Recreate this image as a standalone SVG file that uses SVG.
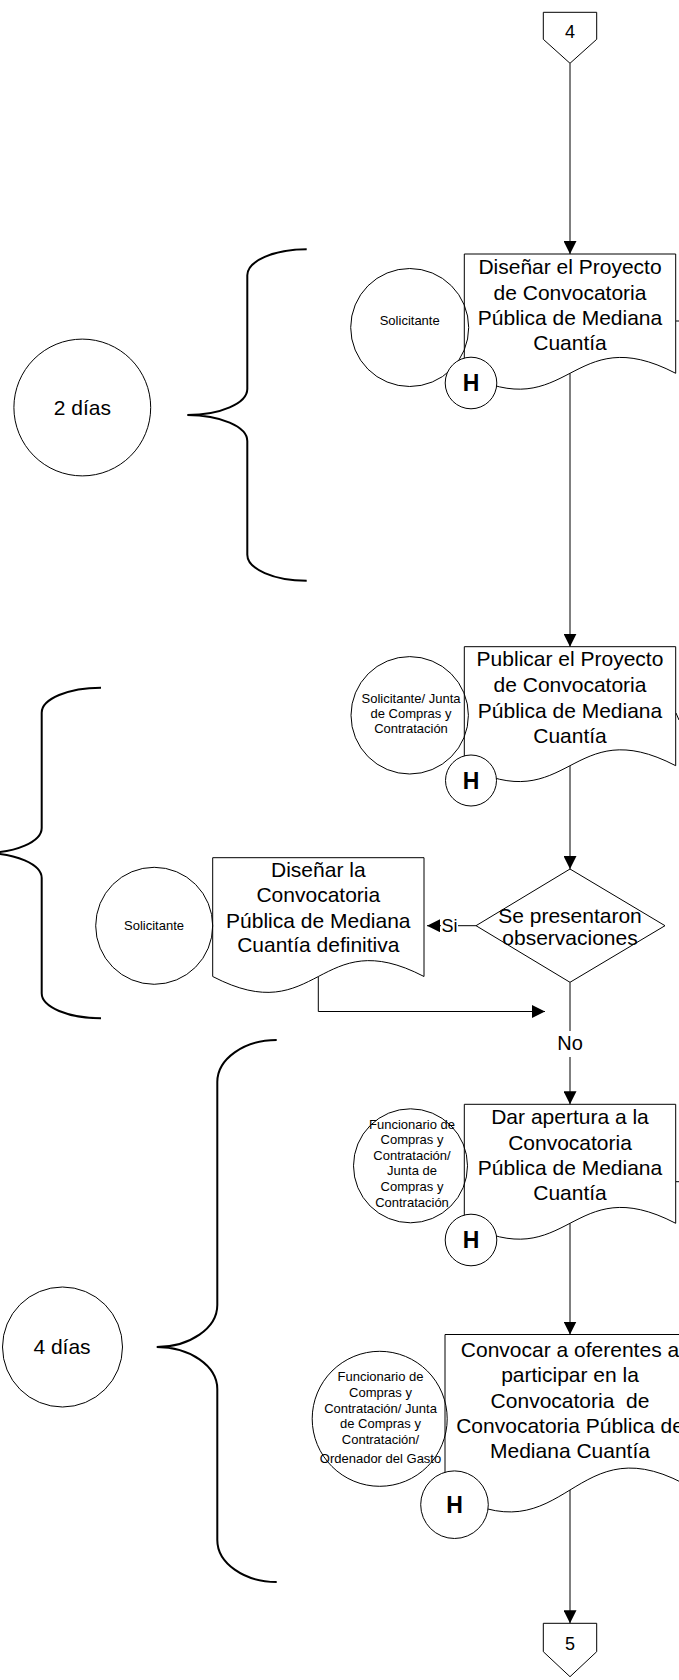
<svg xmlns="http://www.w3.org/2000/svg" width="679" height="1680" viewBox="0 0 679 1680">
<style>
.ln{fill:none;stroke:#000;stroke-width:1}
.shape{fill:#fff;stroke:#000;stroke-width:1}
.role{fill:none;stroke:#000;stroke-width:1}
.brace{fill:none;stroke:#000;stroke-width:2}
.bg{fill:#fff;stroke:none}
text{font-family:"Liberation Sans",Arial,sans-serif;fill:#000;text-anchor:middle}
.t21{font-size:21px}
.t20{font-size:20px}
.t18{font-size:18px}
.t13{font-size:13px}
.h{font-size:23px;font-weight:bold}
</style>
<defs>
<marker id="arr" markerUnits="userSpaceOnUse" viewBox="0 0 13 13" refX="13" refY="6.5" markerWidth="13" markerHeight="13" orient="auto"><path d="M0,0 L13,6.5 L0,13 Z" fill="#000"/></marker>
</defs>

<g id="braces">
<path class="brace" d="M306.7,249.3 C274,249.3 247.3,261 247.3,275.3 L247.3,389 C247.3,403.3 220.3,415 187.3,415 C220.3,415 247.3,426.7 247.3,441 L247.3,554.7 C247.3,569 274,580.7 306.7,580.7"/>
<path class="brace" d="M101,687.7 C68.4,687.7 41.7,698.95 41.7,712.7 L41.7,828 C41.7,841.75 15.7,853 -16,853 C15.7,853 41.7,864.25 41.7,878 L41.7,993.3 C41.7,1007.05 68.4,1018.3 101,1018.3"/>
<path class="brace" d="M276.7,1040 C244,1040 217.3,1058.9 217.3,1082 L217.3,1305 C217.3,1328.1 190,1347 156.7,1347 C190,1347 217.3,1365.9 217.3,1389 L217.3,1540 C217.3,1563.1 244,1582 276.7,1582"/>
</g>

<g id="dur1"><circle class="shape" cx="82.3" cy="407.5" r="68.4"/><text class="t21" x="82.3" y="414.5">2 días</text></g>
<g id="dur2"><circle class="shape" cx="62.5" cy="1347" r="60"/><text class="t21" x="62" y="1354">4 días</text></g>

<g id="connectors">
<path class="ln" d="M570,63.3 V254" marker-end="url(#arr)"/>
<path class="ln" d="M570,373.3 V646.7" marker-end="url(#arr)"/>
<path class="ln" d="M570,765.7 V869" marker-end="url(#arr)"/>
<path class="ln" d="M476,925.7 H427" marker-end="url(#arr)"/>
<path class="ln" d="M318.3,976.5 V1011.5 H545" marker-end="url(#arr)"/>
<path class="ln" d="M570,982.3 V1104.3" marker-end="url(#arr)"/>
<path class="ln" d="M570,1223.3 V1334.5" marker-end="url(#arr)"/>
<path class="ln" d="M570,1490 V1623.3" marker-end="url(#arr)"/>
<path class="ln" d="M676,321 H679"/>
<path class="ln" d="M676,713 L679,720"/>
<path class="ln" d="M676,1181.7 H679"/>
<rect class="bg" x="441" y="917" width="17" height="17"/>
<text class="t18" x="449.5" y="931.5">Si</text>
<rect class="bg" x="555" y="1031" width="30" height="26"/>
<text class="t20" x="570" y="1050">No</text>
</g>

<g id="off4"><path class="shape" d="M543.3,12.3 H596.7 V39.3 L570,63.3 L543.3,39.3 Z"/><text class="t18" x="570" y="37.5">4</text></g>

<g id="doc1">
<path class="shape" d="M464.3,254 H675.7 V373.3 C570,318.3 570,428.3 464.3,373.3 Z"/>
<text class="t21" x="570"><tspan x="570" y="273.5">Diseñar el Proyecto</tspan><tspan x="570" y="299.5">de Convocatoria</tspan><tspan x="570" y="325">Pública de Mediana</tspan><tspan x="570" y="350">Cuantía</tspan></text>
</g>
<g id="role1"><circle class="role" cx="409.7" cy="327.5" r="59"/><text class="t13" x="409.7" y="325">Solicitante</text></g>
<g id="h1"><circle class="shape" cx="471" cy="383" r="25.8"/><text class="h" x="471" y="391.3">H</text></g>

<g id="doc2">
<path class="shape" d="M464.3,646.7 H675.7 V765.7 C570,710.7 570,820.7 464.3,765.7 Z"/>
<text class="t21" x="570"><tspan x="570" y="666">Publicar el Proyecto</tspan><tspan x="570" y="692">de Convocatoria</tspan><tspan x="570" y="717.5">Pública de Mediana</tspan><tspan x="570" y="742.5">Cuantía</tspan></text>
</g>
<g id="role2"><circle class="role" cx="409.7" cy="715.3" r="58.7"/><text class="t13" x="411"><tspan x="411" y="703">Solicitante/ Junta</tspan><tspan x="411" y="718">de Compras y</tspan><tspan x="411" y="733">Contratación</tspan></text></g>
<g id="h2"><circle class="shape" cx="471" cy="780.5" r="25.5"/><text class="h" x="471" y="788.8">H</text></g>

<g id="decision">
<path class="shape" d="M570,869 L665,925.7 L570,982.3 L476,925.7 Z"/>
<text class="t21" x="570"><tspan x="570" y="922.7">Se presentaron</tspan><tspan x="570" y="945">observaciones</tspan></text>
</g>

<g id="doc3">
<path class="shape" d="M212.7,857.7 H424 V976.5 C318.35,921.5 318.35,1031.5 212.7,976.5 Z"/>
<text class="t21" x="318.3"><tspan x="318.3" y="876.5">Diseñar la</tspan><tspan x="318.3" y="902">Convocatoria</tspan><tspan x="318.3" y="927.5">Pública de Mediana</tspan><tspan x="318.3" y="952">Cuantía definitiva</tspan></text>
</g>
<g id="role3"><circle class="role" cx="154.2" cy="925.8" r="58.5"/><text class="t13" x="154" y="930">Solicitante</text></g>

<g id="doc4">
<path class="shape" d="M464.3,1104.3 H675.7 V1223.3 C570,1168.3 570,1278.3 464.3,1223.3 Z"/>
<text class="t21" x="570"><tspan x="570" y="1123.8">Dar apertura a la</tspan><tspan x="570" y="1149.8">Convocatoria</tspan><tspan x="570" y="1175.3">Pública de Mediana</tspan><tspan x="570" y="1200">Cuantía</tspan></text>
</g>
<g id="role4"><circle class="role" cx="410.5" cy="1165.8" r="57"/><text class="t13" x="412"><tspan x="412" y="1128.5">Funcionario de</tspan><tspan x="412" y="1144.1">Compras y</tspan><tspan x="412" y="1159.7">Contratación/</tspan><tspan x="412" y="1175.3">Junta de</tspan><tspan x="412" y="1190.9">Compras y</tspan><tspan x="412" y="1206.5">Contratación</tspan></text></g>
<g id="h4"><circle class="shape" cx="471" cy="1240" r="25.8"/><text class="h" x="471" y="1248.3">H</text></g>

<g id="doc5">
<path class="shape" d="M445,1334.5 H695 V1490 C570,1414 570,1566 445,1490 Z"/>
<text class="t21" x="570" style="white-space:pre"><tspan x="570" y="1356.7">Convocar a oferentes a</tspan><tspan x="570" y="1381.7">participar en la</tspan><tspan x="570" y="1408.3">Convocatoria  de</tspan><tspan x="570" y="1433.3">Convocatoria Pública de</tspan><tspan x="570" y="1458.3">Mediana Cuantía</tspan></text>
</g>
<g id="role5"><circle class="role" cx="379.7" cy="1418.8" r="67.5"/><text class="t13" x="380.5"><tspan x="380.5" y="1381">Funcionario de</tspan><tspan x="380.5" y="1396.7">Compras y</tspan><tspan x="380.5" y="1412.5">Contratación/ Junta</tspan><tspan x="380.5" y="1428.2">de Compras y</tspan><tspan x="380.5" y="1444">Contratación/</tspan><tspan x="380.5" y="1463.3">Ordenador del Gasto</tspan></text></g>
<g id="h5"><circle class="shape" cx="454.5" cy="1504.7" r="33.8"/><text class="h" x="454.5" y="1513">H</text></g>

<g id="off5"><path class="shape" d="M543.3,1623.3 H596.7 V1651.7 L570,1676.7 L543.3,1651.7 Z"/><text class="t18" x="570" y="1650">5</text></g>
</svg>
